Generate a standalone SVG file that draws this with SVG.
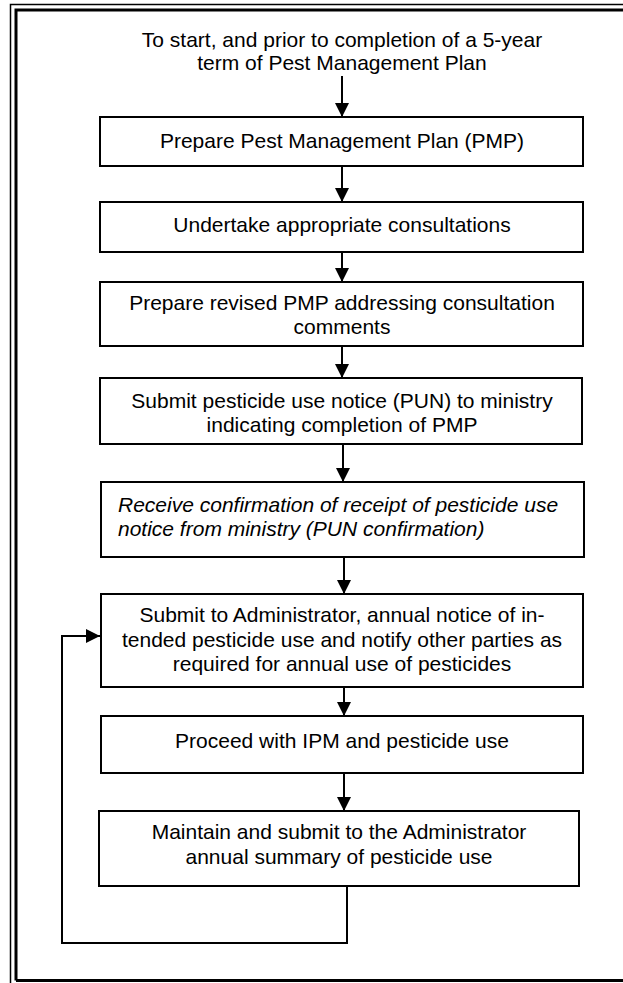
<svg xmlns="http://www.w3.org/2000/svg" width="623" height="983" viewBox="0 0 623 983">
<defs>
<style>
.box{fill:#fff;stroke:#000;stroke-width:2}
.t{font-family:"Liberation Sans",Arial,sans-serif;font-size:21px;fill:#000}
.c{text-anchor:middle}
.i{font-style:italic}
.ln{fill:none;stroke:#000;stroke-width:2}
</style>
<marker id="ah" viewBox="0 0 10 10" refX="10" refY="5" markerWidth="7" markerHeight="7" markerUnits="userSpaceOnUse" orient="auto">
<path d="M0,0 L10,5 L0,10 Z" fill="#000"/>
</marker>
<marker id="ah2" viewBox="0 0 10 10" refX="10" refY="5" markerWidth="14" markerHeight="14" markerUnits="userSpaceOnUse" orient="auto">
<path d="M0,0 L10,5 L0,10 Z" fill="#000"/>
</marker>
</defs>
<rect width="623" height="983" fill="#fff"/>
<g id="frame">
<path d="M10.5,983 V4.5 H623" fill="none" stroke="#000" stroke-width="1.5"/>
<path d="M16,980.5 V10 H623 M16,980.5 H623" fill="none" stroke="#000" stroke-width="3"/>
</g>
<g id="start">
<text class="t c" x="342" y="47">To start, and prior to completion of a 5-year</text>
<text class="t c" x="342" y="70">term of Pest Management Plan</text>
</g>
<g id="connectors">
<path class="ln" d="M342,76 V117" marker-end="url(#ah2)"/>
<path class="ln" d="M342,166 V202" marker-end="url(#ah2)"/>
<path class="ln" d="M342,252 V282" marker-end="url(#ah2)"/>
<path class="ln" d="M342,346 V378" marker-end="url(#ah2)"/>
<path class="ln" d="M343,444 V482" marker-end="url(#ah2)"/>
<path class="ln" d="M344,557 V594" marker-end="url(#ah2)"/>
<path class="ln" d="M344,687 V716" marker-end="url(#ah2)"/>
<path class="ln" d="M344,773 V811" marker-end="url(#ah2)"/>
<path class="ln" d="M347,886 V943 H62 V636 H100" marker-end="url(#ah2)"/>
</g>
<g id="n1">
<rect class="box" x="100" y="117" width="483" height="49"/>
<text class="t c" x="342" y="148">Prepare Pest Management Plan (PMP)</text>
</g>
<g id="n2">
<rect class="box" x="100" y="202" width="483" height="50"/>
<text class="t c" x="342" y="232">Undertake appropriate consultations</text>
</g>
<g id="n3">
<rect class="box" x="100" y="282" width="483" height="64"/>
<text class="t c" x="342" y="310">Prepare revised PMP addressing consultation</text>
<text class="t c" x="342" y="334">comments</text>
</g>
<g id="n4">
<rect class="box" x="100" y="378" width="482" height="66"/>
<text class="t c" x="342" y="408">Submit pesticide use notice (PUN) to ministry</text>
<text class="t c" x="342" y="432">indicating completion of PMP</text>
</g>
<g id="n5">
<rect class="box" x="101" y="482" width="483" height="75"/>
<text class="t i" x="118" y="512">Receive confirmation of receipt of pesticide use</text>
<text class="t i" x="118" y="536">notice from ministry (PUN confirmation)</text>
</g>
<g id="n6">
<rect class="box" x="101" y="594" width="482" height="93"/>
<text class="t c" x="342" y="622">Submit to Administrator, annual notice of in-</text>
<text class="t c" x="342" y="647">tended pesticide use and notify other parties as</text>
<text class="t c" x="342" y="671">required for annual use of pesticides</text>
</g>
<g id="n7">
<rect class="box" x="101" y="716" width="482" height="57"/>
<text class="t c" x="342" y="748">Proceed with IPM and pesticide use</text>
</g>
<g id="n8">
<rect class="box" x="99" y="811" width="480" height="75"/>
<text class="t c" x="339" y="839">Maintain and submit to the Administrator</text>
<text class="t c" x="339" y="864">annual summary of pesticide use</text>
</g>
</svg>
